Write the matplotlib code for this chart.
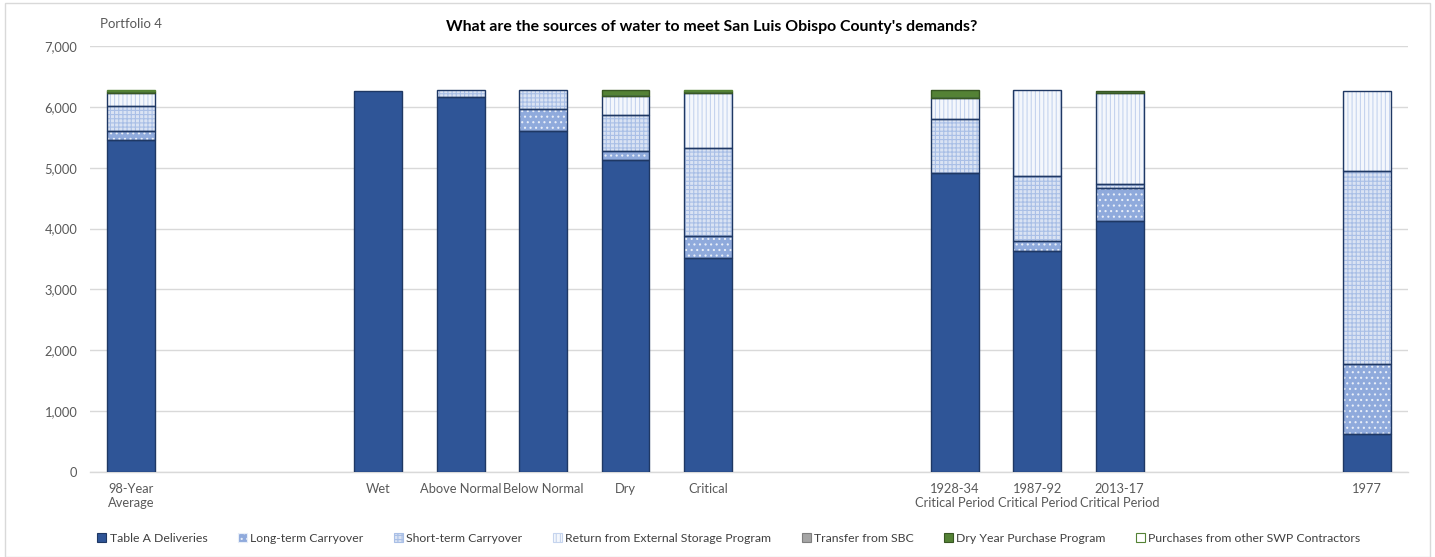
import matplotlib
matplotlib.use("Agg")
import matplotlib.pyplot as plt
from matplotlib.patches import Patch, Rectangle
import numpy as np

plt.rcParams['font.family'] = ['Lato', 'DejaVu Sans']
plt.rcParams['hatch.linewidth'] = 0.8

categories = ["98-Year\nAverage", "", "", "Wet", "Above Normal", "Below Normal", "Dry", "Critical",
              "", "", "1928-34\nCritical Period", "1987-92\nCritical Period", "2013-17\nCritical Period",
              "", "", "1977"]

table_a =    [5450, 0, 0, 6265, 6170, 5610, 5130, 3510, 0, 0, 4910, 3630, 4120, 0, 0, 620]
long_term =  [150, 0, 0, 0, 0, 350, 150, 370, 0, 0, 0, 170, 540, 0, 0, 1150]
short_term = [410, 0, 0, 0, 100, 310, 585, 1440, 0, 0, 890, 1070, 70, 0, 0, 3180]
ext_return = [225, 0, 0, 0, 0, 0, 320, 910, 0, 0, 350, 1400, 1500, 0, 0, 1310]
sbc =        [0, 0, 0, 0, 0, 0, 0, 0, 0, 0, 0, 0, 0, 0, 0, 0]
dry_year =   [25, 0, 0, 0, 0, 0, 85, 30, 0, 0, 120, 0, 30, 0, 0, 0]
purchases =  [10, 0, 0, 0, 0, 0, 0, 10, 0, 0, 0, 0, 0, 0, 0, 0]

series_names = ["Table A Deliveries", "Long-term Carryover", "Short-term Carryover",
                "Return from External Storage Program", "Transfer from SBC",
                "Dry Year Purchase Program", "Purchases from other SWP Contractors"]
series_vals = [table_a, long_term, short_term, ext_return, sbc, dry_year, purchases]

# style: facecolor, hatch, hatch color, outline color
styles = [
    ("#2F5597", None, "#2F5597", "#1F3864"),
    ("#8FAADC", "...", "#E8EEF8", "#1F3864"),
    ("#DAE3F3", "++++", "#A9BFE6", "#1F3864"),
    ("#F4F7FC", "||||", "#C5D4EE", "#1F3864"),
    ("#A5A5A5", None, "#A5A5A5", "#7F7F7F"),
    ("#548235", None, "#548235", "#385723"),
    ("#FFFFFF", None, "#FFFFFF", "#548235"),
]

fig = plt.figure(figsize=(14.35, 5.57), dpi=100)
ax = fig.add_axes([90/1435, 1-472/557, 1318/1435, 426/557])

x = np.arange(len(categories))
width = 0.58
bottom = np.zeros(len(categories))
handles = []
for name, vals, (fc, hatch, hc, ec) in zip(series_names, series_vals, styles):
    vals = np.array(vals, dtype=float)
    mask = vals > 0
    if mask.any():
        ax.bar(x[mask], vals[mask], width, bottom=bottom[mask], facecolor=fc,
               hatch=hatch, edgecolor=hc, linewidth=0, zorder=3)
        ax.bar(x[mask], vals[mask], width, bottom=bottom[mask], fill=False,
               edgecolor=ec, linewidth=1.0, zorder=4)
    bottom += vals
    handles.append(Patch(facecolor=fc, hatch=hatch, edgecolor=hc if hatch else ec,
                         linewidth=0.8, label=name))

ax.set_xlim(-0.5, len(categories) - 0.5)
ax.set_ylim(0, 7000)
ax.set_yticks(np.arange(0, 7001, 1000))
ax.yaxis.set_major_formatter(matplotlib.ticker.FuncFormatter(lambda v, p: f"{int(v):,}"))
ax.set_xticks(x)
ax.set_xticklabels(categories)
ax.tick_params(axis='both', length=0, labelsize=9.3, colors="#595959", pad=8)
ax.tick_params(axis='y', pad=9)
ax.grid(axis='y', color="#D9D9D9", linewidth=1, zorder=0)
ax.set_axisbelow(True)
for s in ["top", "right", "left"]:
    ax.spines[s].set_visible(False)
ax.spines["bottom"].set_color("#D9D9D9")
ax.spines["bottom"].set_linewidth(1)

fig.text(712/1435, 1-27/557, "What are the sources of water to meet San Luis Obispo County's demands?",
         ha="center", va="center", fontsize=11.4, fontweight="bold", color="black")
fig.text(100/1435, 1-24/557, "Portfolio 4", ha="left", va="center", fontsize=9.5, color="#595959")

leg = fig.legend(handles=handles, loc="center", bbox_to_anchor=(729/1435, 1-538/557), ncol=7,
                 frameon=False, fontsize=8.8, handlelength=0.75, handleheight=0.75,
                 handletextpad=0.25, columnspacing=2.5, labelcolor="#404040")

fig.patches.append(Rectangle((5/1435, 0), 1425/1435, 1-3/557, transform=fig.transFigure,
                             fill=False, edgecolor="#D9D9D9", linewidth=1))

fig.savefig("out.png", dpi=100)
